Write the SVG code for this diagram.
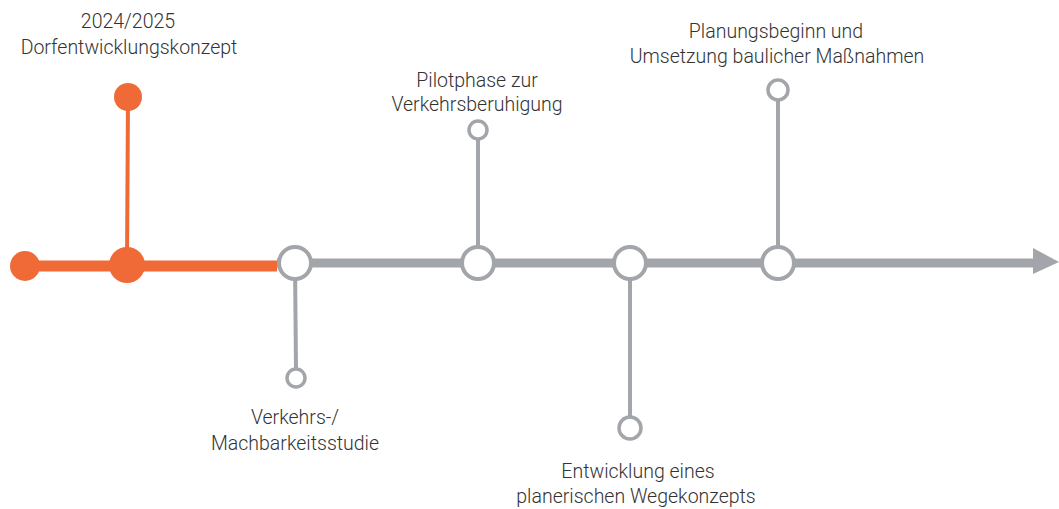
<svg xmlns="http://www.w3.org/2000/svg" width="1059" height="509" viewBox="0 0 1059 509">
<style>
.t{font-family:Roboto,"Liberation Sans",sans-serif;font-weight:300;font-size:19.5px;fill:#333;text-anchor:middle}
.g{stroke:#a2a5aa;fill:none}
.o{stroke:#ef6a37;fill:none}
.oc{fill:#ef6a37}
.gc{fill:#fff;stroke:#a2a5aa}
</style>
<rect width="1059" height="509" fill="#fff"/>
<g id="connectors">
<line class="g" x1="277" y1="263" x2="1036" y2="263" stroke-width="9"/>
<polygon points="1033,248 1059,262 1033,274" fill="#a2a5aa"/>
<line class="o" x1="25" y1="266" x2="277" y2="266" stroke-width="11"/>
<line class="o" x1="128" y1="97" x2="127" y2="265" stroke-width="4"/>
<line class="g" x1="295" y1="263" x2="296" y2="369" stroke-width="4"/>
<line class="g" x1="478" y1="139" x2="478" y2="263" stroke-width="4"/>
<line class="g" x1="630" y1="263" x2="630" y2="417" stroke-width="4"/>
<line class="g" x1="778" y1="100" x2="778" y2="263" stroke-width="4"/>
</g>
<g id="start"><circle class="oc" cx="25" cy="266" r="15"/></g>
<g id="n2024">
<circle class="oc" cx="127" cy="265" r="18"/>
<circle class="oc" cx="128" cy="97" r="14"/>
<text class="t" x="128" y="28">2024/2025</text>
<text class="t" x="129" y="54">Dorfentwicklungskonzept</text>
</g>
<g id="nVerkehr">
<circle class="gc" cx="295" cy="263" r="16" stroke-width="4"/>
<circle class="gc" cx="296" cy="378" r="9" stroke-width="3.5"/>
<text class="t" x="295" y="424">Verkehrs-/</text>
<text class="t" x="295" y="450">Machbarkeitsstudie</text>
</g>
<g id="nPilot">
<circle class="gc" cx="478" cy="263" r="16" stroke-width="4"/>
<circle class="gc" cx="478" cy="130" r="9" stroke-width="3.5"/>
<text class="t" x="477" y="87">Pilotphase zur</text>
<text class="t" x="477" y="111">Verkehrsberuhigung</text>
</g>
<g id="nWege">
<circle class="gc" cx="630" cy="263" r="16" stroke-width="4"/>
<circle class="gc" cx="630" cy="428" r="11" stroke-width="3.5"/>
<text class="t" x="638" y="478">Entwicklung eines</text>
<text class="t" x="636" y="503">planerischen Wegekonzepts</text>
</g>
<g id="nPlanung">
<circle class="gc" cx="778" cy="263" r="16" stroke-width="4"/>
<circle class="gc" cx="778" cy="90" r="10" stroke-width="3.5"/>
<text class="t" x="776" y="38">Planungsbeginn und</text>
<text class="t" x="777" y="63">Umsetzung baulicher Maßnahmen</text>
</g>
</svg>
